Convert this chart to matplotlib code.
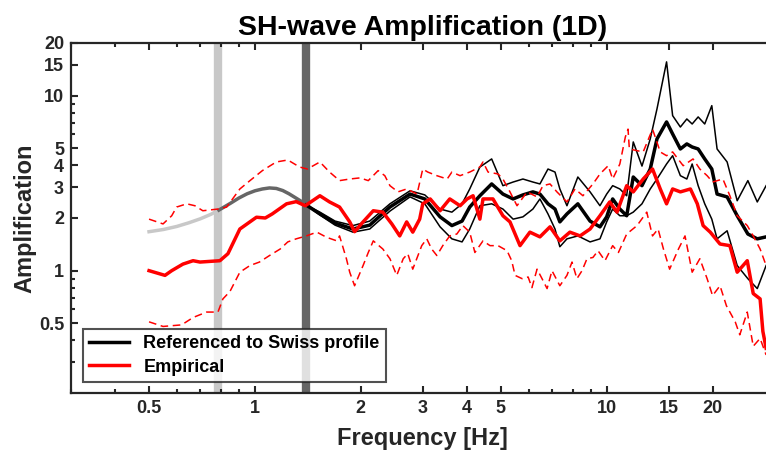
import matplotlib.pyplot as plt
from matplotlib.ticker import FixedLocator, FixedFormatter, NullFormatter

plt.rcParams['font.family'] = ['Liberation Sans', 'DejaVu Sans']
plt.rcParams['font.weight'] = 'bold'

# theoretical 1D curve below the valid band (two grey parts)
f_light = [0.50, 0.55, 0.60, 0.65, 0.70, 0.75, 0.79]
a_light = [1.67, 1.72, 1.79, 1.88, 1.98, 2.10, 2.22]
f_dark = [0.79, 0.85, 0.90, 0.95, 1.00, 1.05, 1.10, 1.15, 1.20, 1.25, 1.30, 1.35, 1.40]
a_dark = [2.22, 2.42, 2.60, 2.75, 2.86, 2.93, 2.97, 2.95, 2.87, 2.75, 2.62, 2.50, 2.39]

# referenced to Swiss profile (median and spread)
f_ref = [1.40, 1.53, 1.69, 1.90, 2.12, 2.42, 2.76, 3.04, 3.36, 3.63, 3.88, 4.08, 4.36, 4.71,
         5.07, 5.42, 5.78, 6.17, 6.46, 6.81, 7.13, 7.36, 7.71, 8.28, 8.97, 9.57, 10.0, 10.4,
         10.9, 11.4, 11.9, 12.6, 13.3, 13.9, 14.8, 15.4, 16.2, 16.9, 17.5, 18.2, 19.0, 19.9,
         20.6, 22.0, 23.5, 25.2, 26.8, 28.4]
ref_hi = [2.37, 2.16, 1.92, 1.81, 1.92, 2.41, 2.86, 2.71, 2.25, 2.16, 2.41, 2.93, 3.91, 4.35,
          3.06, 3.21, 3.34, 3.21, 3.13, 3.81, 3.66, 2.93, 2.35, 3.43, 2.82, 2.35, 2.74, 3.06,
          2.93, 2.68, 5.44, 3.96, 5.66, 8.40, 15.6, 7.69, 6.62, 7.36, 6.89, 7.56, 6.89, 8.77,
          4.96, 4.18, 2.51, 3.27, 2.47, 3.06]
ref_med = [2.37, 2.11, 1.87, 1.73, 1.82, 2.31, 2.74, 2.57, 2.03, 1.81, 1.92, 2.31, 2.68, 3.13,
           2.74, 2.57, 2.71, 2.82, 2.74, 2.41, 2.25, 1.90, 2.11, 2.41, 1.92, 1.78, 2.03, 2.57,
           2.25, 2.06, 3.43, 3.06, 3.81, 5.66, 7.08, 6.04, 4.96, 5.30, 5.09, 4.96, 4.35, 3.81,
           2.74, 2.64, 2.06, 1.62, 1.52, 1.56]
ref_lo = [2.37, 2.08, 1.82, 1.66, 1.73, 2.19, 2.64, 2.41, 1.78, 1.52, 1.46, 1.73, 2.35, 2.41,
          2.25, 1.97, 2.03, 2.25, 2.57, 2.11, 1.73, 1.37, 1.52, 1.58, 1.46, 1.52, 1.90, 2.25,
          2.06, 2.06, 2.16, 2.41, 2.93, 3.34, 4.07, 4.54, 3.49, 3.34, 4.07, 3.06, 2.41, 1.97,
          1.52, 1.69, 1.07, 0.90, 0.79, 1.07]

# empirical amplification (median)
f_emp = [0.50, 0.555, 0.58, 0.624, 0.667, 0.698, 0.795, 0.838, 0.906, 1.01, 1.07, 1.12, 1.23,
         1.31, 1.39, 1.53, 1.63, 1.74, 1.86, 1.92, 2.03, 2.17, 2.31, 2.45, 2.58, 2.70, 2.81,
         2.94, 3.00, 3.15, 3.36, 3.58, 3.83, 4.01, 4.17, 4.36, 4.45, 4.75, 5.07, 5.31, 5.67,
         6.05, 6.46, 6.90, 7.36, 7.86, 8.40, 8.97, 9.57, 10.2, 10.7, 11.4, 11.9, 12.7, 13.5,
         14.2, 14.8, 15.4, 16.2, 17.3, 18.1, 18.8, 19.7, 21.0, 22.4, 23.5, 25.1, 26.1, 27.3,
         27.8, 28.4]
emp_med = [1.00, 0.94, 1.00, 1.09, 1.14, 1.12, 1.14, 1.25, 1.73, 2.02, 2.00, 2.11, 2.41,
           2.48, 2.35, 2.68, 2.47, 2.31, 1.90, 1.67, 1.90, 2.20, 2.16, 1.85, 1.58, 1.90, 1.66,
           1.97, 2.41, 2.57, 2.20, 2.57, 2.35, 2.57, 2.68, 1.97, 2.57, 2.57, 2.06, 1.90, 1.39,
           1.66, 1.56, 1.78, 1.48, 1.66, 1.58, 1.73, 2.06, 2.47, 2.16, 3.06, 2.82, 3.34, 3.81,
           2.93, 2.41, 2.93, 2.82, 2.93, 2.41, 1.81, 1.66, 1.42, 1.39, 0.98, 1.14, 0.74, 0.69,
           0.45, 0.36]

# empirical upper bound
f_emp_hi = [0.50, 0.548, 0.58, 0.599, 0.64, 0.675, 0.711, 0.785, 0.831, 0.906, 0.968, 1.05,
            1.15, 1.24, 1.34, 1.41, 1.53, 1.63, 1.74, 1.86, 1.99, 2.10, 2.24, 2.34, 2.42, 2.55,
            2.70, 2.89, 3.00, 3.10, 3.29, 3.52, 3.63, 3.83, 4.08, 4.36, 4.45, 4.60, 4.91, 5.07,
            5.31, 5.56, 5.94, 6.34, 6.59, 6.90, 7.22, 7.71, 8.13, 8.56, 9.14, 9.57, 10.1, 10.4,
            10.9, 11.3, 11.5, 11.6, 12.2, 12.7, 13.5, 14.2, 14.8, 15.4, 16.5, 17.6, 18.4, 19.3,
            20.0, 21.4, 22.4, 23.5, 25.1, 26.1, 27.3, 28.4]
emp_hi = [1.97, 1.85, 2.06, 2.31, 2.41, 2.35, 2.20, 2.25, 2.31, 2.93, 3.27, 3.73, 4.18, 4.29,
          3.91, 3.81, 4.18, 3.66, 3.27, 3.34, 3.39, 3.27, 3.73, 3.49, 3.06, 2.82, 2.93, 2.74,
          3.81, 3.66, 3.49, 3.34, 3.66, 3.49, 3.66, 3.91, 4.18, 3.66, 3.57, 3.34, 2.82, 2.35,
          2.82, 2.64, 3.06, 3.13, 2.82, 2.47, 2.93, 2.68, 3.13, 3.57, 3.98, 3.34, 4.07, 5.81,
          6.44, 4.96, 4.85, 4.77, 6.44, 4.77, 4.54, 4.77, 3.98, 4.35, 3.81, 3.49, 3.21, 3.34,
          2.68, 2.06, 1.81, 1.58, 1.33, 1.07]

# empirical lower bound
f_emp_lo = [0.50, 0.548, 0.619, 0.667, 0.729, 0.785, 0.811, 0.849, 0.906, 0.968, 1.03, 1.10,
            1.18, 1.24, 1.31, 1.40, 1.50, 1.60, 1.71, 1.74, 1.82, 1.86, 1.92, 2.03, 2.10, 2.17,
            2.31, 2.42, 2.53, 2.64, 2.72, 2.81, 2.98, 3.08, 3.18, 3.29, 3.42, 3.58, 3.75, 3.90,
            4.08, 4.22, 4.45, 4.66, 4.91, 5.21, 5.37, 5.49, 5.75, 5.98, 6.13, 6.34, 6.55, 6.77,
            6.99, 7.36, 7.71, 7.97, 8.23, 8.51, 8.79, 9.14, 9.45, 9.89, 10.4, 10.8, 11.4, 12.2,
            13.0, 13.5, 14.0, 14.5, 15.1, 16.0, 16.7, 17.5, 18.4, 19.3, 20.0, 21.0, 21.9, 23.2,
            23.9, 25.1, 26.1, 27.3, 28.4]
emp_lo = [0.51, 0.48, 0.49, 0.54, 0.58, 0.58, 0.69, 0.76, 0.98, 1.07, 1.12, 1.22, 1.33, 1.46,
          1.52, 1.58, 1.66, 1.55, 1.48, 1.58, 1.17, 0.98, 0.82, 1.07, 1.27, 1.48, 1.33, 1.17,
          0.94, 1.17, 1.25, 1.02, 1.39, 1.52, 1.33, 1.22, 1.39, 1.58, 1.62, 1.81, 1.66, 1.27,
          1.48, 1.39, 1.39, 1.30, 1.14, 0.94, 0.90, 0.92, 0.80, 1.02, 0.90, 0.79, 1.00, 0.82,
          0.94, 1.12, 0.90, 1.00, 1.17, 1.19, 1.30, 1.14, 1.39, 1.27, 1.62, 1.81, 2.16, 1.58,
          1.73, 1.33, 1.02, 1.33, 1.58, 0.98, 1.17, 0.90, 0.72, 0.82, 0.63, 0.51, 0.43, 0.58,
          0.37, 0.41, 0.33]

f0_bar = 0.787
f1_bar = 1.40

xticks = [0.5, 1, 2, 3, 4, 5, 10, 15, 20]
xticklabels = ['0.5', '1', '2', '3', '4', '5', '10', '15', '20']
xminor = [0.3, 0.4, 0.6, 0.7, 0.8, 0.9, 6, 7, 8, 9, 30]
yticks = [0.5, 1, 2, 3, 4, 5, 10, 15, 20]
yticklabels = ['0.5', '1', '2', '3', '4', '5', '10', '15', '20']
yminor = [0.3, 0.4, 0.6, 0.7, 0.8, 0.9, 6, 7, 8, 9]

fig = plt.figure(figsize=(7.66, 4.55), dpi=100)
ax = fig.add_axes([0.0927, 0.1363, 0.9184, 0.7692])
ax.set_xscale('log')
ax.set_yscale('log')

ax.axvline(f0_bar, color='#c8c8c8', lw=6, zorder=1)
ax.axvline(f1_bar, color='#666666', lw=6, zorder=1)

ax.plot(f_light, a_light, color='#c8c8c8', lw=2.5, zorder=2)
ax.plot(f_dark, a_dark, color='#666666', lw=2.5, zorder=2)

ax.plot(f_ref, ref_hi, color='k', lw=1.1, zorder=3)
ax.plot(f_ref, ref_lo, color='k', lw=1.1, zorder=3)
ax.plot(f_ref, ref_med, color='k', lw=2.5, zorder=3, label='Referenced to Swiss profile')

ax.plot(f_emp_hi, emp_hi, color='red', lw=1.1, ls=(0, (5, 3)), zorder=4)
ax.plot(f_emp_lo, emp_lo, color='red', lw=1.1, ls=(0, (5, 3)), zorder=4)
ax.plot(f_emp, emp_med, color='red', lw=2.5, zorder=5, label='Empirical')

ax.set_xlim(0.3, 30)
ax.set_ylim(0.2, 20)

ax.xaxis.set_major_locator(FixedLocator(xticks))
ax.xaxis.set_major_formatter(FixedFormatter(xticklabels))
ax.xaxis.set_minor_locator(FixedLocator(xminor))
ax.xaxis.set_minor_formatter(NullFormatter())
ax.yaxis.set_major_locator(FixedLocator(yticks))
ax.yaxis.set_major_formatter(FixedFormatter(yticklabels))
ax.yaxis.set_minor_locator(FixedLocator(yminor))
ax.yaxis.set_minor_formatter(NullFormatter())

ax.tick_params(which='both', direction='in', top=True, right=True, width=1.5, colors='#262626')
ax.tick_params(which='major', length=5, labelsize=13, labelcolor='#262626', pad=5)
ax.tick_params(which='minor', length=3)
for lab in ax.get_xticklabels() + ax.get_yticklabels():
    lab.set_fontweight('bold')
for sp in ax.spines.values():
    sp.set_linewidth(1.6)
    sp.set_color('#262626')

ax.set_xlabel('Frequency [Hz]', fontsize=17, fontweight='bold', color='#262626', labelpad=7)
ax.set_ylabel('Amplification', fontsize=17, fontweight='bold', color='#262626', labelpad=2)
ax.set_title('SH-wave Amplification (1D)', fontsize=20.5, fontweight='bold', pad=6)

leg = ax.legend(loc='lower left', bbox_to_anchor=(0.017, 0.031), fontsize=13, frameon=True,
                fancybox=False, borderpad=0.35, handlelength=2.2, labelspacing=0.35,
                borderaxespad=0)
leg.get_frame().set_edgecolor('#262626')
leg.get_frame().set_linewidth(1.5)
for t in leg.get_texts():
    t.set_fontweight('bold')

fig.savefig('out.png', dpi=100)
